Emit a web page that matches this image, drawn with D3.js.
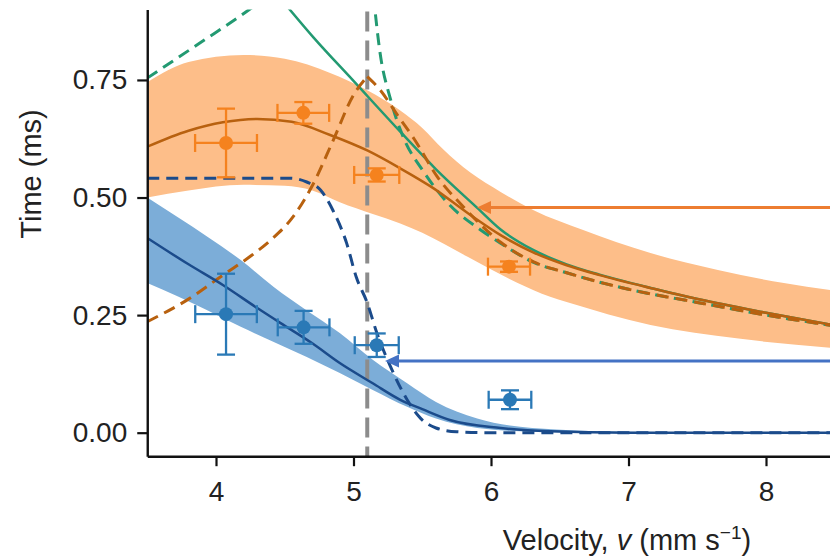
<!DOCTYPE html>
<html>
<head>
<meta charset="utf-8">
<script src="https://cdn.jsdelivr.net/npm/d3@7"></script>
<style>
  html, body { margin: 0; padding: 0; background: #fff; }
  svg { display: block; }
  text { font-family: "Liberation Sans", Arial, Helvetica, sans-serif; fill: #222; }
</style>
</head>
<body>
<svg id="chart" width="830" height="557"></svg>
<script>
// ---- Measured points: velocity (mm/s) with time (ms) and their uncertainties ----
const orangeV    = [4.073, 4.635, 5.169, 6.131];
const orangeT    = [0.616, 0.680, 0.548, 0.353];
const orangeVErr = [0.225, 0.188, 0.164, 0.153];
const orangeTErr = [0.073, 0.023, 0.014, 0.011];

const blueV    = [4.073, 4.637, 5.169, 6.138];
const blueT    = [0.252, 0.224, 0.186, 0.070];
const blueVErr = [0.224, 0.188, 0.160, 0.155];
const blueTErr = [0.086, 0.035, 0.025, 0.020];

// ---- Model curves as [velocity, time] pairs ----
const orangeFit = [[3.5,0.608],[3.8,0.642],[4.05,0.66],[4.3,0.667],[4.55,0.661],[4.83,0.633],[5.1,0.6],
  [5.34,0.562],[5.58,0.52],[5.83,0.467],[6.07,0.42],[6.31,0.383],[6.55,0.356],[6.79,0.335],
  [7.2,0.305],[7.52,0.283],[8.0,0.255],[8.5,0.228]];
const orangeBandHi = [[3.5,0.745],[3.8,0.788],[4.2,0.803],[4.5,0.795],[4.83,0.765],[5.1,0.728],[5.34,0.685],
  [5.5,0.648],[5.65,0.603],[5.85,0.553],[6.07,0.512],[6.31,0.473],[6.67,0.431],[7.16,0.382],
  [7.65,0.346],[8.13,0.318],[8.5,0.302]];
const orangeBandLo = [[3.5,0.50],[3.8,0.515],[4.2,0.527],[4.5,0.525],[4.7,0.515],[4.9,0.49],[5.14,0.465],
  [5.34,0.445],[5.5,0.425],[5.83,0.374],[6.19,0.319],[6.43,0.289],[6.55,0.278],[7.16,0.229],
  [7.8,0.2],[8.5,0.18]];
const orangeLimitRise = [[3.5,0.236],[3.8,0.284],[4.05,0.335],[4.25,0.375],[4.4,0.41],[4.55,0.455],
  [4.7,0.525],[4.85,0.62],[5.0,0.718],[5.1,0.757]];
const orangeLimitFall = [[5.1,0.757],[5.19,0.73],[5.32,0.675],[5.44,0.625],[5.61,0.544],[5.8,0.48],
  [6.07,0.405],[6.31,0.363],[6.55,0.34],[6.79,0.32],[7.0,0.305],[7.5,0.277],[8.0,0.25],[8.5,0.227]];

const greenFit = [[4.45,0.93],[4.71,0.84],[5.0,0.748],[5.34,0.64],[5.6,0.56],[5.9,0.478],
  [6.07,0.432],[6.31,0.388],[6.55,0.358],[6.79,0.336],[7.2,0.305],[7.52,0.283],[8.0,0.255],[8.5,0.228]];
const greenLimitLeft = [[3.5,0.754],[3.885,0.829],[4.23,0.897],[4.3,0.912]];
const greenLimitRight = [[5.145,0.93],[5.19,0.814],[5.27,0.708],[5.36,0.63],[5.51,0.555],[5.68,0.49],
  [5.92,0.432],[6.07,0.403],[6.31,0.362],[6.55,0.34],[6.79,0.32],[7.0,0.305],[7.5,0.277],[8.0,0.25],[8.5,0.227]];

const blueFit = [[3.5,0.414],[3.8,0.358],[4.05,0.314],[4.3,0.265],[4.47,0.233],[4.7,0.19],[4.9,0.148],
  [5.14,0.105],[5.34,0.07],[5.5,0.05],[5.7,0.027],[6.07,0.01],[6.43,0.003],[7.0,0.0],[8.5,0.0]];
const blueBandHi = [[3.5,0.50],[3.94,0.416],[4.18,0.367],[4.42,0.31],[4.66,0.26],[4.9,0.212],[5.14,0.155],
  [5.39,0.105],[5.6,0.065],[5.9,0.03],[6.3,0.01],[7.0,0.002],[8.5,0.0]];
const blueBandLo = [[3.5,0.318],[3.94,0.26],[4.18,0.225],[4.42,0.193],[4.66,0.161],[4.9,0.127],[5.14,0.091],
  [5.39,0.055],[5.6,0.03],[5.9,0.01],[6.3,0.002],[7.0,0.0],[8.5,0.0]];
const blueLimit = [[3.5,0.541],[4.54,0.541],[4.66,0.533],[4.76,0.516],[4.85,0.473],[4.95,0.403],[5.02,0.331],
  [5.1,0.276],[5.17,0.212],[5.27,0.14],[5.39,0.07],[5.49,0.03],[5.6,0.01],[5.75,0.002],[6.0,0.0],[8.5,0.0]];

const criticalVelocity = 5.1;

const xTicks = [4, 5, 6, 7, 8];
const yTicks = [0, 0.25, 0.5, 0.75];

// Annotation arrows: tip position in data units
const arrows = [
  { v: 5.898, t: 0.479, color: "#ed7d31" },
  { v: 5.229, t: 0.1525, color: "#4472c4" }
];

// ---- Layout ----
const svg = d3.select("#chart");
const x = d3.scaleLinear().domain([3.5, 8.5]).range([147.25, 834.75]);
const y = d3.scaleLinear().domain([-0.05, 0.9]).range([456.2, 9.4]);

const C = {
  orangeBand: "#fdbe89", blueBand: "#7cadd8",
  orangeLine: "#b8610f", blueLine: "#1b4b8b", green: "#239a72",
  orangePt: "#f5821e", bluePt: "#2a79b6", grey: "#8c8c8c"
};

svg.append("clipPath").attr("id", "plot-clip")
  .append("rect").attr("x", x(3.5)).attr("y", y(0.9))
  .attr("width", 830 - x(3.5)).attr("height", y(-0.05) - y(0.9));

const plot = svg.append("g").attr("clip-path", "url(#plot-clip)");

const line = d3.line().x(d => x(d[0])).y(d => y(d[1])).curve(d3.curveMonotoneX);

// Uncertainty bands: smooth upper edge, then the lower edge walked back
function bandPath(hi, lo) {
  const top = line(hi);
  const bottomRev = line(lo.slice().reverse());
  return top + "L" + bottomRev.slice(1) + "Z";
}

plot.append("path").attr("d", bandPath(orangeBandHi, orangeBandLo)).attr("fill", C.orangeBand);
plot.append("path").attr("d", bandPath(blueBandHi, blueBandLo)).attr("fill", C.blueBand);

// critical velocity marker
plot.append("line")
  .attr("x1", x(criticalVelocity)).attr("x2", x(criticalVelocity))
  .attr("y1", y(0.9) + 2).attr("y2", y(-0.05))
  .attr("stroke", C.grey).attr("stroke-width", 4).attr("stroke-dasharray", "20,9");

function curve(data, color, dashed, width) {
  plot.append("path").attr("d", line(data)).attr("fill", "none")
    .attr("stroke", color).attr("stroke-width", width || 2.5)
    .attr("stroke-dasharray", dashed ? "12,7" : null);
}

curve(greenFit, C.green, false);
curve(greenLimitLeft, C.green, true, 3);
curve(greenLimitRight, C.green, true, 3);
curve(orangeLimitRise, C.orangeLine, true, 3);
curve(orangeLimitFall, C.orangeLine, true, 3);
curve(orangeFit, C.orangeLine, false);
curve(blueLimit, C.blueLine, true, 3);
curve(blueFit, C.blueLine, false);

// ---- Error-bar points ----
function points(vs, ts, ve, te, color) {
  const cap = 9;
  const g = svg.append("g").attr("stroke", color).attr("stroke-width", 2.3).attr("fill", color);
  vs.forEach((v, i) => {
    const cx = x(v), cy = y(ts[i]);
    const xl = x(v - ve[i]), xr = x(v + ve[i]);
    const yt = y(ts[i] + te[i]), yb = y(ts[i] - te[i]);
    g.append("line").attr("x1", xl).attr("x2", xr).attr("y1", cy).attr("y2", cy);
    g.append("line").attr("x1", xl).attr("x2", xl).attr("y1", cy - cap).attr("y2", cy + cap);
    g.append("line").attr("x1", xr).attr("x2", xr).attr("y1", cy - cap).attr("y2", cy + cap);
    g.append("line").attr("x1", cx).attr("x2", cx).attr("y1", yt).attr("y2", yb);
    g.append("line").attr("x1", cx - cap).attr("x2", cx + cap).attr("y1", yt).attr("y2", yt);
    g.append("line").attr("x1", cx - cap).attr("x2", cx + cap).attr("y1", yb).attr("y2", yb);
    g.append("circle").attr("cx", cx).attr("cy", cy).attr("r", 7).attr("stroke", "none");
  });
}
points(orangeV, orangeT, orangeVErr, orangeTErr, C.orangePt);
points(blueV, blueT, blueVErr, blueTErr, C.bluePt);

// ---- Axes ----
const xAxis = svg.append("g").attr("transform", `translate(0,${y(-0.05)})`)
  .call(d3.axisBottom(x).tickValues(xTicks).tickFormat(d3.format("d"))
    .tickSize(10).tickSizeOuter(0).tickPadding(15));
const yAxis = svg.append("g").attr("transform", `translate(${x(3.5)},0)`)
  .call(d3.axisLeft(y).tickValues(yTicks).tickFormat(d3.format(".2f"))
    .tickSize(10).tickSizeOuter(0).tickPadding(10));

[xAxis, yAxis].forEach(a => {
  a.select(".domain").attr("stroke", "#111").attr("stroke-width", 2.4);
  a.selectAll(".tick line").attr("stroke", "#111").attr("stroke-width", 2.2);
  a.selectAll(".tick text").attr("font-size", 28).attr("fill", "#222")
    .attr("font-family", '"Liberation Sans", Arial, sans-serif');
});

// Axis titles
const xl = svg.append("text").attr("x", 627).attr("y", 550)
  .attr("text-anchor", "middle").attr("font-size", 29);
xl.append("tspan").text("Velocity, ");
xl.append("tspan").attr("font-style", "italic").text("v");
xl.append("tspan").text(" (mm s");
xl.append("tspan").attr("font-size", 19).attr("dy", -11).text("\u22121");
xl.append("tspan").attr("dy", 11).text(")");

svg.append("text").attr("transform", "translate(41,174) rotate(-90)")
  .attr("text-anchor", "middle").attr("font-size", 29).text("Time (ms)");

// ---- Annotation arrows ----
arrows.forEach(a => {
  const tx = x(a.v), ty = y(a.t);
  svg.append("line").attr("x1", 840).attr("x2", tx + 10).attr("y1", ty).attr("y2", ty)
    .attr("stroke", a.color).attr("stroke-width", 3);
  svg.append("path")
    .attr("d", `M${tx},${ty} L${tx + 14},${ty - 6.5} L${tx + 14},${ty + 6.5} Z`)
    .attr("fill", a.color);
});
</script>
</body>
</html>
